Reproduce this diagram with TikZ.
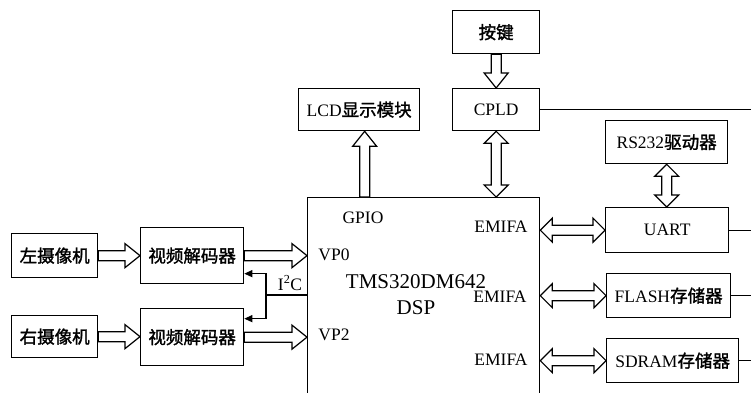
\documentclass[tikz,border=0pt]{standalone}
\usepackage{fontspec}
\setmainfont{Liberation Serif}
\newfontfamily\cjk{Noto Sans CJK SC}[FakeBold=1.6]
\usetikzlibrary{calc,arrows.meta}
\tikzset{
  box/.style={draw, line width=1.3pt, inner sep=0pt, anchor=north west, font=\fontsize{17.5}{20}\selectfont},
  lbl/.style={inner sep=0pt, font=\fontsize{17.5}{20}\selectfont},
  big/.style={inner sep=0pt, font=\fontsize{21}{24}\selectfont},
  blk/.style={draw, line width=1.2pt, fill=white, line join=miter},
  ln/.style={line width=1.2pt},
  tip/.style={line width=1.2pt, -{Triangle[length=8pt,width=7pt]}}
}
\newcommand{\sarr}[2]{%
  \coordinate (hA) at ($(#2)!15pt!(#1)$);
  \draw[blk] ($(#1)!5pt!90:(#2)$) -- ($(hA)!5pt!90:(#2)$) -- ($(hA)!12pt!90:(#2)$) -- (#2)
    -- ($(hA)!12pt!-90:(#2)$) -- ($(hA)!5pt!-90:(#2)$) -- ($(#1)!5pt!-90:(#2)$) -- cycle;}
\newcommand{\darr}[2]{%
  \coordinate (hA) at ($(#1)!12pt!(#2)$);
  \coordinate (hB) at ($(#2)!12pt!(#1)$);
  \draw[blk] (#1) -- ($(hA)!12pt!90:(#2)$) -- ($(hA)!5pt!90:(#2)$) -- ($(hB)!5pt!90:(#2)$)
    -- ($(hB)!12pt!90:(#2)$) -- (#2) -- ($(hB)!12pt!-90:(#2)$) -- ($(hB)!5pt!-90:(#2)$)
    -- ($(hA)!5pt!-90:(#2)$) -- ($(hA)!12pt!-90:(#2)$) -- cycle;}
\begin{document}
\begin{tikzpicture}[x=1pt,y=-1pt]
\useasboundingbox (0,0) rectangle (751,392);
\clip (0,0) rectangle (751,392);
\fill[white] (0,0) rectangle (751,392);
% boxes
\node[box, minimum width=86pt, minimum height=44pt] (camL) at (11,233) {\cjk 左摄像机};
\node[box, minimum width=86pt, minimum height=42pt] (camR) at (11,315) {\cjk 右摄像机};
\node[box, minimum width=103pt, minimum height=56pt] (decA) at (140,227) {\cjk 视频解码器};
\node[box, minimum width=103pt, minimum height=57pt] (decB) at (140,308) {\cjk 视频解码器};
\node[box, minimum width=121pt, minimum height=42pt] (lcd) at (298,88) {LCD{\cjk 显示模块}};
\node[box, minimum width=87pt, minimum height=43pt] (key) at (452,10) {\cjk 按键};
\node[box, minimum width=87pt, minimum height=42pt] (cpld) at (452,88) {CPLD};
\node[box, minimum width=122pt, minimum height=43pt] (rs) at (605,120) {RS232{\cjk 驱动器}};
\node[box, minimum width=123pt, minimum height=45pt] (uart) at (605,207) {UART};
\node[box, minimum width=124pt, minimum height=44pt] (flash) at (606,273) {FLASH{\cjk 存储器}};
\node[box, minimum width=132pt, minimum height=44pt] (sdram) at (606,338) {SDRAM{\cjk 存储器}};
\node[box, minimum width=232pt, minimum height=260pt] (dsp) at (307,197) {};
% labels inside DSP
\node[lbl] (gpio) at (363,218) {GPIO};
\node[lbl] (vp0) at (334,255) {VP0};
\node[lbl] (vp2) at (334,335) {VP2};
\node[big] (tms) at (416,282) {TMS320DM642};
\node[big] (dspl) at (416,308) {DSP};
\node[lbl] (em1) at (501,227) {EMIFA};
\node[lbl] (em2) at (500,297) {EMIFA};
\node[lbl] (em3) at (501,360) {EMIFA};
\node[lbl] (i2c) at (290,283) {I\textsuperscript{2}C};
% helper coordinates
\coordinate (rightedge) at (751,0);
\coordinate (pL) at (camL.east -| decA.west);
\coordinate (pR) at (camR.east -| decB.west);
\coordinate (pA) at (decA.east -| dsp.west);
\coordinate (pB) at (decB.east -| dsp.west);
\coordinate (gB) at ([xshift=5.5pt]lcd.south);
\coordinate (gA) at (gB |- dsp.north);
\coordinate (cA) at (cpld.south |- dsp.north);
\coordinate (uA) at (rs.south |- uart.north);
\coordinate (eU) at (uart.west -| dsp.east);
\coordinate (eF) at (flash.west -| dsp.east);
\coordinate (eS) at (sdram.west -| dsp.east);
\coordinate (i2cdsp) at (307,295);
\coordinate (i2cj) at (266,295);
% block arrows
\sarr{camL.east}{pL}
\sarr{camR.east}{pR}
\sarr{decA.east}{pA}
\sarr{decB.east}{pB}
\sarr{gA}{gB}
\sarr{key.south}{cpld.north}
\darr{cpld.south}{cA}
\darr{rs.south}{uA}
\darr{eU}{uart.west}
\darr{eF}{flash.west}
\darr{eS}{sdram.west}
% I2C
\draw[ln] (i2cdsp) -- (i2cj);
\draw[tip] (i2cj) |- ([yshift=-18pt]decA.east);
\draw[tip] (i2cj) |- ([yshift=18.5pt]decB.east);
% lines to the right
\draw[ln] (cpld.east) -- (cpld.east -| rightedge);
\draw[ln] (uart.east) -- (uart.east -| rightedge);
\draw[ln] (flash.east) -- (flash.east -| rightedge);
\draw[ln] (sdram.east) -- (sdram.east -| rightedge);
\end{tikzpicture}
\end{document}
